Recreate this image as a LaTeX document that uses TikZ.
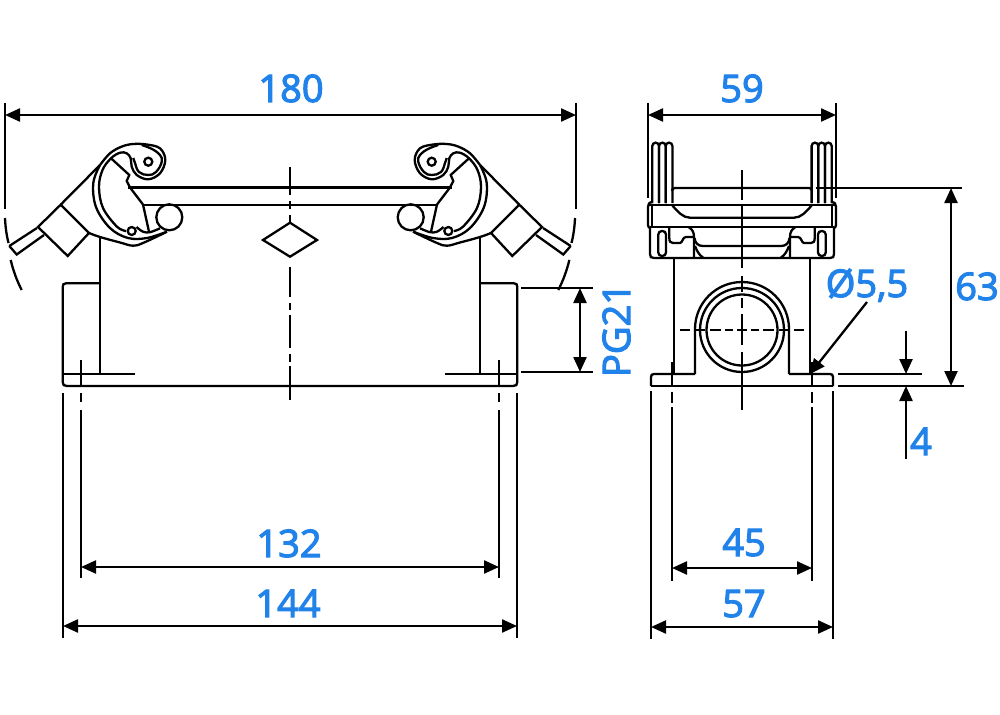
\documentclass[tikz,border=0pt]{standalone}
\usepackage{fontspec}
\setmainfont{Open Sans}
\newfontfamily\dimfont{Open Sans}[FakeBold=3]
\usetikzlibrary{arrows.meta}
\definecolor{dimblue}{HTML}{2183EA}

\newcommand{\leverarm}{
	\draw (9.3,246) -- (16.7,254.5) -- (44,235);
	\draw (9.3,246) -- (37,228);
	\draw (38,227) -- (60.7,204.7) -- (89,233) -- (67.7,256) -- cycle;
	\draw (60.7,204.7) -- (100,165);
	\draw plot[smooth,tension=.6] coordinates {(100,165) (93.3,183) (96,207) (110,228) (128,238) (147,238) (166,232)};
	\draw plot[smooth,tension=.6] coordinates {(89,233) (100,237) (120,242.5) (133,245.7) (143,243) (167,231.7)};
	\draw plot[smooth,tension=.6] coordinates {(100,165) (110,153.3) (122,146.5) (133.3,144) (146.7,144.5) (160,148.3) (165.3,160) (160,173.3) (148.3,179.3) (136.7,175) (131.7,166.7) (130.7,158.3) (126.7,153.3) (120,152.7) (111,158.3) (102.5,170) (99,187) (103,208) (117,226.7) (126,231)};
	\draw plot[smooth,tension=.7] coordinates {(141.7,145) (152,149) (160,155) (161.7,162) (156,172) (148.3,175) (139,172) (135,163) (133.3,158)};
	\draw (111,158.3) -- (129.3,175) -- (126.7,181) -- (130,187.5) -- (143,204.5) -- (149,231.7);
	\draw plot[smooth,tension=.6] coordinates {(136.5,227) (143,231.7) (150,232.2) (160,228.3)};
	\node[lever circle,minimum size=8pt] at (148.3,161.7) {};
	\node[lever circle,minimum size=8pt] at (131.7,231) {};
	\node[lever circle,minimum size=26pt] at (169.3,217.3) {};
	\draw (128,187.5) -- (290,187.5) (143,205) -- (290,205);
	% flange and holes
	\draw (100,237) -- (100,373.7);
	\draw (100,283.3) -- (66,283.3) .. controls (63.5,283.3) and (62.7,284.5) .. (62.7,287) -- (62.7,382) .. controls (62.7,385) and (64,386) .. (67,386) -- (290,386);
	\draw (62.7,373.7) -- (135,373.7);
	\draw (80.7,360) -- (80.7,386);
	\draw (80.7,393) -- (80.7,401.7) (80.7,410) -- (80.7,578);
	\draw (62.7,393) -- (62.7,638);
	\draw (5,218) .. controls (5.4,227) and (6.5,235) .. (8.5,243);
	\draw (10.7,260) .. controls (13,270) and (17,281) .. (21.7,290);
}

\newcommand{\sideshell}{
	\foreach \ribx in {652.3,659,665.7}{
		\draw (\ribx,203) -- (\ribx,146) arc (180:360:3.35) -- (\ribx+6.7,203);
	}
	\draw (672,191) .. controls (672,189) and (673,188) .. (675,188) -- (742,188);
	\draw (648,205) -- (742,205) (651.7,205) -- (651.7,227);
	\draw (652.3,202) .. controls (649,202.5) and (648,204) .. (648,207) -- (648,225) .. controls (648,227) and (649,228) .. (651,228);
	\draw (672,205) .. controls (678,212) and (683,217.7) .. (690,217.7) -- (742,217.7);
	\draw (650,227) -- (742,227);
	\draw (650,227) -- (650,254) .. controls (650,257) and (651,258) .. (654,258) -- (742,258);
	\draw[rounded corners=3.5pt] (658.3,231) rectangle (666,256);
	\draw (669.3,227) -- (669.3,238) .. controls (669.3,241.5) and (670.5,243) .. (673,243) -- (680,243) .. controls (682.5,243) and (682.5,237) .. (686,237) -- (694,237);
	\draw (689,227.5) .. controls (692,229) and (694,232) .. (694,237) -- (694,258);
	\draw (694.5,238) .. controls (695,243) and (698,246) .. (703,246) -- (742,246);
	\draw (695,246) .. controls (697,251) and (699,255) .. (703,257.5);
	\draw (674,258) -- (674,374);
	\draw (672,362) -- (672,386);
	\draw (672,392) -- (672,403) (672,407) -- (672,581);
	\draw (651,391) -- (651,639);
	\draw (651,386) -- (651,377) .. controls (651,375) and (652,374) .. (654,374) -- (695,374);
	\draw (651,386) -- (742,386);
	\draw (695,374) -- (695,329) arc (180:270:47);
}

\begin{document}
\begin{tikzpicture}[x=1pt,y=-1pt,line width=2.3pt,
			dim line/.style={line width=2.3pt,{Stealth[length=15pt,width=13pt,inset=0pt]}-{Stealth[length=15pt,width=13pt,inset=0pt]}},
			dim head/.style={line width=2.3pt,-{Stealth[length=15pt,width=13pt,inset=0pt]}},
			dim label/.style={anchor=base,inner sep=0pt,text=dimblue,font=\dimfont\fontsize{38}{38}\selectfont},
			lever circle/.style={circle,draw,inner sep=0pt,outer sep=0pt}
			]
			\useasboundingbox (0,0) rectangle (1000,714);
			
			% front view
			\leverarm
			\begin{scope}[shift={(580,0)},xscale=-1]
				\leverarm
			\end{scope}
			\draw (290,167) -- (290,195) (290,200.5) -- (290,209) (290,215) -- (290,222.7);
			\draw (290,267) -- (290,297) (290,303) -- (290,310) (290,315) -- (290,348) (290,354) -- (290,362) (290,366) -- (290,400);
			\draw (263,240) -- (290,222.7) -- (317,240) -- (290,256.7) -- cycle;
			
			% side view
			\sideshell
			\begin{scope}[shift={(1484,0)},xscale=-1]
				\sideshell
			\end{scope}
			\draw (742,330) circle (42) (742,330) circle (35.5);
			\foreach \ya/\yb in {170/200,205/267.7,275.7/292,298/308,314/345,352/410}{
				\draw (742,\ya) -- (742,\yb);
			}
			\foreach \xa/\xb in {680/690,696/705,710/721,725/733,737/747,751/759,763/774,779/788,794/804}{
				\draw (\xa,330) -- (\xb,330);
			}
			
			% extension lines
			\coordinate (LT) at (5,115);
			\coordinate (RT) at (576,115);
			\coordinate (SL) at (648,115);
			\coordinate (SR) at (836,115);
			\draw (5,103) -- (5,209) (576,103) -- (576,209);
			\draw (648,103) -- (648,198) (836,103) -- (836,198);
			\draw (521,288) -- (593,288) (521,372) -- (593,372);
			\draw (815.6,188) -- (962,188);
			\draw (838,374) -- (922,374) (838,386) -- (964,386);
			
			% dimensions
			\coordinate (PA) at (580,288);
			\coordinate (PB) at (580,372);
			\coordinate (HA) at (81,567);
			\coordinate (HB) at (499,567);
			\coordinate (WA) at (63,626);
			\coordinate (WB) at (517,626);
			\coordinate (SHA) at (672,568);
			\coordinate (SHB) at (812,568);
			\coordinate (SWA) at (651,627);
			\coordinate (SWB) at (833,627);
			\coordinate (TA) at (951,188);
			\coordinate (TB) at (951,386);
			\coordinate (FA) at (906,331);
			\coordinate (FB) at (906,374);
			\coordinate (FC) at (906,459);
			\coordinate (FD) at (906,386);
			\coordinate (LA) at (867,302);
			\coordinate (LB) at (810,374);
			\path[dim line]
			(LT) edge (RT)
			(SL) edge (SR)
			(PA) edge (PB)
			(HA) edge (HB)
			(WA) edge (WB)
			(SHA) edge (SHB)
			(SWA) edge (SWB)
			(TA) edge (TB)
			;
			\path[dim head]
			(FA) edge (FB)
			(FC) edge (FD)
			(LA) edge (LB)
			;
			
			\node[dim label] (D180) at (291,102) {180};
			\node[dim label] (D59) at (742,102) {59};
			\node[dim label] (D63) at (977,300) {63};
			\node[dim label] (DHOLE) at (867,297) {Ø5,5};
			\node[dim label] (D4) at (921,455) {4};
			\node[dim label,rotate=90] (DPG) at (630,330) {PG21};
			\node[dim label] (D132) at (289,557) {132};
			\node[dim label] (D144) at (288,617) {144};
			\node[dim label] (D45) at (744,556) {45};
			\node[dim label] (D57) at (744,617) {57};
		\end{tikzpicture}
\end{document}
